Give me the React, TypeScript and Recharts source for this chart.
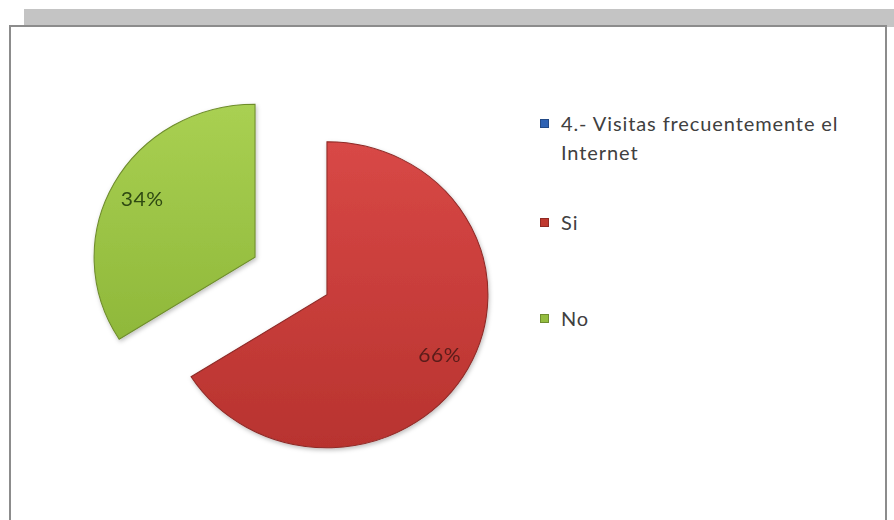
import { PieChart, Pie, Cell } from 'recharts';

const categories = ['Si', 'No'];
const values = [66, 34];
const legendTitle = ['4.- Visitas frecuentemente el', 'Internet'];

const FILLS = ['url(#gradRed)', 'url(#gradGreen)'];
const STROKES = ['#8e2a27', '#6e8c2c'];
const SWATCH = ['#c0392f', '#94bd3f'];
const LABEL_COLORS = ['#5a1c1a', '#2f4a12'];

const RAD = Math.PI / 180;
const CX = 291;
const CY = 276;
const R = 153;
const STRETCH_X = 1.052; // the original picture is slightly wider than tall
const EXPLODE = 39;

const total = values.reduce((a, b) => a + b, 0);
let acc = 0;
const offsets = values.map((v) => {
  const start = 90 - (acc / total) * 360;
  acc += v;
  const end = 90 - (acc / total) * 360;
  const mid = (start + end) / 2;
  return { dx: EXPLODE * Math.cos(mid * RAD), dy: -EXPLODE * Math.sin(mid * RAD) };
});

const data = categories.map((name, i) => ({ name, value: values[i] }));

const makeLabel = (idx: number) => (props: any) => {
  if (props.index !== idx) return null;
  const { cx, cy, midAngle, outerRadius, percent } = props;
  const r = outerRadius * 0.8;
  const x = cx + r * Math.cos(-midAngle * RAD);
  const y = cy + r * Math.sin(-midAngle * RAD);
  return (
    <text x={x} y={y} textAnchor="middle" dominantBaseline="central" fill={LABEL_COLORS[idx]} fontSize={20} letterSpacing={0.5} fontFamily="Lato, sans-serif">
      {`${Math.round(percent * 100)}%`}
    </text>
  );
};

function LegendBox() {
  const item = (color: string, lines: string[], top: number) => (
    <div key={lines[0]} style={{ position: 'absolute', left: 540, top, display: 'flex', alignItems: 'flex-start' }}>
      <span style={{ width: 9, height: 9, marginTop: 10, marginRight: 12, background: color, boxShadow: 'inset 0 0 0 1px rgba(0,0,0,0.25)' }} />
      <div style={{ lineHeight: '29px', fontSize: 20, letterSpacing: 0.9, color: '#404040', fontFamily: 'Lato, sans-serif' }}>
        {lines.map((l) => (
          <div key={l}>{l}</div>
        ))}
      </div>
    </div>
  );
  return (
    <>
      {item('#2f63b4', legendTitle, 109)}
      {item(SWATCH[0], [categories[0]], 208)}
      {item(SWATCH[1], [categories[1]], 304)}
    </>
  );
}

export default function App() {
  return (
    <div style={{ position: 'absolute', left: 0, top: 0, width: 894, height: 520, background: '#fff', overflow: 'hidden' }}>
      <div style={{ position: 'absolute', left: 24, top: 9, width: 870, height: 18, background: '#c4c4c4' }} />
      <div style={{ position: 'absolute', left: 9, top: 25, width: 874, height: 520, background: '#fff', border: '2px solid #8c8c8c' }} />
      <div style={{ position: 'absolute', left: 0, top: 0, transform: `scaleX(${STRETCH_X})`, transformOrigin: `${CX}px ${CY}px` }}>
        <PieChart width={894} height={520} margin={{ top: 0, right: 0, bottom: 0, left: 0 }}>
          <defs>
            <linearGradient id="gradRed" x1="0" y1="0" x2="0" y2="1">
              <stop offset="0%" stopColor="#d84846" />
              <stop offset="100%" stopColor="#b8332f" />
            </linearGradient>
            <linearGradient id="gradGreen" x1="0" y1="0" x2="0" y2="1">
              <stop offset="0%" stopColor="#a9d052" />
              <stop offset="100%" stopColor="#8fb83a" />
            </linearGradient>
            <filter id="softShadow" x="-10%" y="-10%" width="120%" height="120%">
              <feDropShadow dx="1" dy="2" stdDeviation="2" floodColor="#000" floodOpacity="0.25" />
            </filter>
          </defs>
          {values.map((_, idx) => (
            <Pie
              key={categories[idx]}
              data={data}
              dataKey="value"
              nameKey="name"
              cx={CX + offsets[idx].dx}
              cy={CY + offsets[idx].dy}
              outerRadius={R}
              startAngle={90}
              endAngle={-270}
              labelLine={false}
              label={makeLabel(idx)}
              isAnimationActive={false}
            >
              {data.map((d, i) => (
                <Cell
                  key={d.name}
                  fill={i === idx ? FILLS[i] : 'transparent'}
                  stroke={i === idx ? STROKES[i] : 'none'}
                  strokeWidth={1}
                  filter={i === idx ? 'url(#softShadow)' : undefined}
                />
              ))}
            </Pie>
          ))}
        </PieChart>
      </div>
      <LegendBox />
    </div>
  );
}
